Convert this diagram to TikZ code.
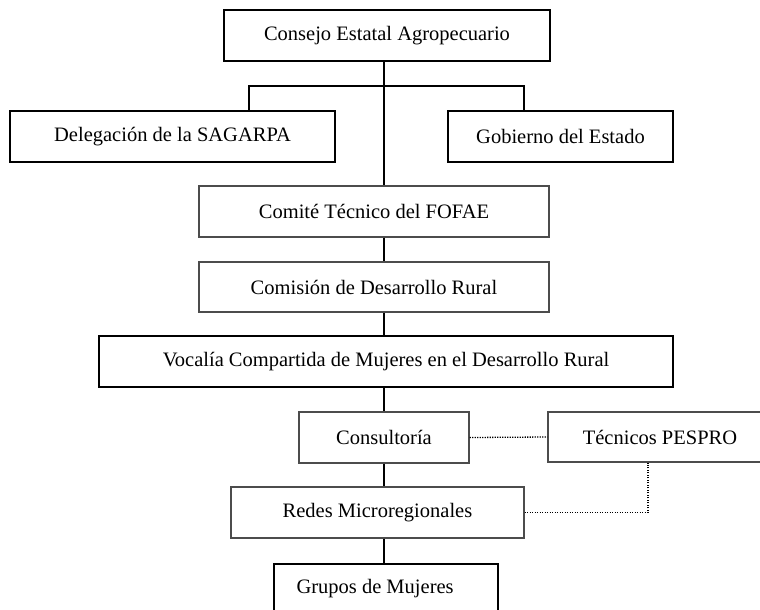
\documentclass[tikz,border=0pt]{standalone}
\usepackage{fontspec}
\setmainfont{Liberation Serif}
\begin{document}
\begin{tikzpicture}[x=1pt,y=-1pt,
    every node/.style={font=\fontsize{20.5}{24}\selectfont},
    caja/.style={draw, line width=1.6pt, inner sep=0pt},
    cajagris/.style={draw=black!70, line width=1.3pt, inner sep=0pt},
    linea/.style={line width=1.5pt},
    punteado/.style={line width=1.3pt, dash pattern=on 1.1pt off 1.4pt}]
\useasboundingbox (0,0) rectangle (760,610);

% Cajas del organigrama
\node[caja, minimum width=326, minimum height=51] (consejo) at (387,35.5) {Consejo Estatal Agropecuario};
\node[caja, minimum width=325, minimum height=51] (delegacion) at (172.5,136.5) {Delegación de la SAGARPA};
\node[caja, minimum width=225, minimum height=51] (gobierno) at (560.5,136.5) {Gobierno del Estado};
\node[cajagris, minimum width=350, minimum height=51] (comite) at (374,211.5) {Comité Técnico del FOFAE};
\node[cajagris, minimum width=350, minimum height=50] (comision) at (374,287) {Comisión de Desarrollo Rural};
\node[caja, minimum width=574, minimum height=51] (vocalia) at (386,361.5) {Vocalía Compartida de Mujeres en el Desarrollo Rural};
\node[cajagris, minimum width=170, minimum height=51] (consultoria) at (384,437.5) {Consultoría};
\node[cajagris, minimum width=224, minimum height=50] (tecnicos) at (660,437) {Técnicos PESPRO};
\node[cajagris, minimum width=293, minimum height=51] (redes) at (377.5,512.5) {Redes Microregionales};
\node[caja, minimum width=224, minimum height=60, anchor=north] (grupos) at (386,563) {};
\node[anchor=base west] (gruposnombre) at (293,593) {Grupos de Mujeres};

% Ejes de las lineas
\coordinate (eje) at (384,0);
\coordinate (ramal) at (0,86);
\coordinate (izq) at (249,0);
\coordinate (der) at (524,0);
\coordinate (pespro) at (648,0);

% Lineas de mando
\draw[linea] (eje |- consejo.south) -- (eje |- comite.north);
\draw[linea] (izq |- delegacion.north) -- (izq |- ramal) -- (der |- ramal) -- (der |- gobierno.north);
\foreach \a/\b in {comite/comision, comision/vocalia, vocalia/consultoria, consultoria/redes, redes/grupos}
    \draw[linea] (eje |- \a.south) -- (eje |- \b.north);

% Lineas de apoyo
\draw[punteado] (consultoria.east) -- (tecnicos.west);
\draw[punteado] (redes.east) -| (pespro |- tecnicos.south);

\end{tikzpicture}
\end{document}
